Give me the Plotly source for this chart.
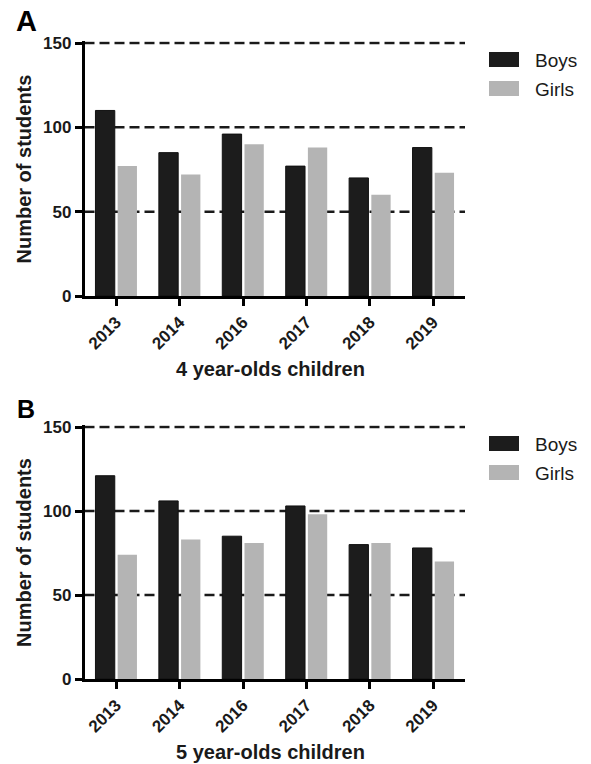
import plotly.graph_objects as go

# Enrolment counts by year, split by sex, for two age groups
years = ["2013", "2014", "2016", "2017", "2018", "2019"]
boys_4 = [110, 85, 96, 77, 70, 88]
girls_4 = [77, 72, 90, 88, 60, 73]
boys_5 = [121, 106, 85, 103, 80, 78]
girls_5 = [74, 83, 81, 98, 81, 70]

y_ticks = [0, 50, 100, 150]
series_names = ["Boys", "Girls"]
panel_labels = ["A", "B"]
x_titles = ["4 year-olds children", "5 year-olds children"]
y_title = "Number of students"

W, H = 591, 764
BOY_COLOR = "#1c1c1c"
GIRL_COLOR = "#b4b4b4"
TEXT_COLOR = "#1a1a1a"
FONT = "Arial, Liberation Sans, Helvetica, sans-serif"
Y_MAX = 151  # a little headroom so the dashed line at 150 is not clipped


def px_x(p):
    return p / W


def px_y(p):
    return 1 - p / H


# Panel geometry in pixels: (row of the 150 line, row of the zero line)
panels = [(43, 296), (427, 679)]
x_left, x_right = 84.5, 465

fig = go.Figure()

data = [(boys_4, girls_4), (boys_5, girls_5)]
shapes = []
annotations = []

for i, ((boys, girls), (y150, y0)) in enumerate(zip(data, panels)):
    xa = "x" if i == 0 else "x2"
    ya = "y" if i == 0 else "y2"
    scale = (y0 - y150) / 150.0
    top = y150 - scale * (Y_MAX - 150)

    fig.add_trace(go.Bar(x=years, y=boys, name=series_names[0], xaxis=xa, yaxis=ya,
                         marker=dict(color=BOY_COLOR, line=dict(color="#111111", width=1)),
                         showlegend=False))
    fig.add_trace(go.Bar(x=years, y=girls, name=series_names[1], xaxis=xa, yaxis=ya,
                         marker=dict(color=GIRL_COLOR, line=dict(width=0)),
                         showlegend=False))

    axis_common = dict(showline=True, linecolor="black", linewidth=2.5,
                       ticks="outside", ticklen=7, tickwidth=2.5, tickcolor="black",
                       tickfont=dict(family=FONT, size=17, color=TEXT_COLOR, weight="bold"),
                       showgrid=False, zeroline=False, automargin=False)
    xkey = "xaxis" if i == 0 else "xaxis2"
    ykey = "yaxis" if i == 0 else "yaxis2"
    fig.update_layout(**{
        xkey: dict(domain=[px_x(x_left), px_x(x_right)], anchor=ya,
                   tickangle=-45, categoryorder="array", categoryarray=years,
                   **axis_common),
        ykey: dict(domain=[px_y(y0), px_y(top)], anchor=xa,
                   range=[0, Y_MAX], tickvals=y_ticks, ticktext=[str(v) for v in y_ticks],
                   **axis_common),
    })

    # Dashed reference lines at the non-zero ticks
    for v in y_ticks[1:]:
        shapes.append(dict(type="line", xref=f"{xa} domain", yref=ya,
                           x0=0, x1=1, y0=v, y1=v, layer="below",
                           line=dict(color=TEXT_COLOR, width=2.5, dash="10px,5px")))

    # Legend block
    sw_top = y150 + 9
    for j, (name, col) in enumerate(zip(series_names, [BOY_COLOR, GIRL_COLOR])):
        s0 = sw_top + j * 29
        shapes.append(dict(type="rect", xref="paper", yref="paper",
                           x0=px_x(489), x1=px_x(519), y0=px_y(s0 + 15), y1=px_y(s0),
                           fillcolor=col, line=dict(width=0)))
        annotations.append(dict(text=name, xref="paper", yref="paper",
                                x=px_x(533), y=px_y(s0 + 8), xanchor="left", yanchor="middle",
                                showarrow=False,
                                font=dict(family=FONT, size=19, color=TEXT_COLOR)))

    # Axis titles
    annotations.append(dict(text=f"<b>{y_title}</b>", xref="paper", yref="paper",
                            x=px_x(24), y=px_y((y150 + y0) / 2), textangle=-90,
                            xanchor="center", yanchor="middle", showarrow=False,
                            font=dict(family=FONT, size=20, color=TEXT_COLOR)))
    annotations.append(dict(text=f"<b>{x_titles[i]}</b>", xref="paper", yref="paper",
                            x=px_x(270), y=px_y(y0 + 73), xanchor="center",
                            yanchor="middle", showarrow=False,
                            font=dict(family=FONT, size=20, color=TEXT_COLOR)))

    # Panel letter
    annotations.append(dict(text=f"<b>{panel_labels[i]}</b>", xref="paper", yref="paper",
                            x=px_x(26), y=px_y(y150 - 22 if i == 0 else y150 - 18),
                            xanchor="center", yanchor="middle", showarrow=False,
                            font=dict(family=FONT, size=29 if i == 0 else 25, color="black")))

fig.update_layout(
    width=W, height=H,
    margin=dict(l=0, r=0, t=0, b=0, autoexpand=False),
    paper_bgcolor="white", plot_bgcolor="white",
    barmode="group", bargap=0.3, bargroupgap=0.13,
    shapes=shapes, annotations=annotations,
    showlegend=False,
)

fig.write_html("out.html")
